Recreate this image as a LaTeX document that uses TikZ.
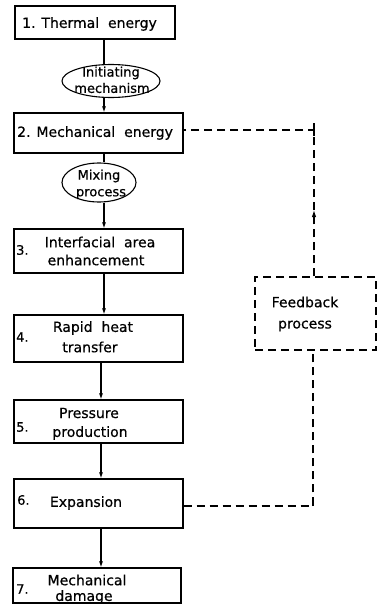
\documentclass[tikz,border=0pt]{standalone}
\usepackage{fontspec}
\setmainfont{DejaVu Sans}[FakeBold=0.6]
\usetikzlibrary{shapes.geometric,arrows.meta}
\begin{document}
\begin{tikzpicture}[x=1pt,y=-1pt,
  box/.style={draw,line width=1.1pt,inner sep=0pt},
  oval/.style={draw,ellipse,line width=1.1pt,inner sep=0pt},
  ovtxt/.style={inner sep=0pt,font=\fontsize{13}{15}\selectfont},
  lbl/.style={inner sep=0pt,font=\fontsize{14}{16}\selectfont},
  num/.style={inner sep=0pt,anchor=west,font=\fontsize{13}{15}\selectfont},
  link/.style={line width=1.1pt},
  arr/.style={line width=1.1pt,-{Latex[length=6pt,width=4pt]}},
  fbline/.style={line width=1.1pt,dash pattern=on 8pt off 5pt},
  fbarr/.style={line width=1.1pt,dash pattern=on 8pt off 5pt,-{Latex[length=7pt,width=4.5pt]}}]
\useasboundingbox (0,0) rectangle (377,613);
% boxes
\node[box,minimum width=160pt,minimum height=33pt] (b1) at (95,22.5) {};
\node[box,minimum width=169pt,minimum height=40pt] (b2) at (98.5,133) {};
\node[box,minimum width=169pt,minimum height=44pt] (b3) at (98.5,251) {};
\node[box,minimum width=169pt,minimum height=47pt] (b4) at (98.5,338.5) {};
\node[box,minimum width=169pt,minimum height=43pt] (b5) at (98.5,421.5) {};
\node[box,minimum width=169pt,minimum height=49pt] (b6) at (98.5,503.5) {};
\node[box,minimum width=168pt,minimum height=35pt] (b7) at (97,585.5) {};
% ovals
\node[oval,minimum width=98pt,minimum height=33pt] (e1) at (111,81) {};
\node[ovtxt] (e1a) at (111,73) {Initiating};
\node[ovtxt] (e1b) at (112,88) {mechanism};
\node[oval,minimum width=74pt,minimum height=39pt] (e2) at (99,182.5) {};
\node[ovtxt] (e2a) at (99,176) {Mixing};
\node[ovtxt] (e2b) at (101,194) {process};
% feedback box
\node[box,fbline,minimum width=121pt,minimum height=73pt] (fb) at (315.5,313.5) {};
% texts
\node[lbl,anchor=west] (t1) at (22,24) {1. Thermal\ \ energy};
\node[lbl,anchor=west] (t2) at (17,133) {2. Mechanical\ \ energy};
\node[num] (n3) at (16,250) {3.};
\node[lbl] (t3a) at (100,242) {Interfacial\ \ area};
\node[lbl] (t3b) at (96,260) {enhancement};
\node[num] (n4) at (16,337) {4.};
\node[lbl] (t4a) at (93,328) {Rapid\ \ heat};
\node[lbl] (t4b) at (90,347) {transfer};
\node[num] (n5) at (16,427) {5.};
\node[lbl] (t5a) at (89,413) {Pressure};
\node[lbl] (t5b) at (90,433) {production};
\node[num] (n6) at (17,500) {6.};
\node[lbl] (t6) at (86,503) {Expansion};
\node[num] (n7) at (16,589) {7.};
\node[lbl] (t7a) at (87,580) {Mechanical};
\node[lbl] (t7b) at (84,597) {damage};
\node[lbl] (tf1) at (305,302) {Feedback};
\node[lbl] (tf2) at (305,326) {process};
% spine coordinates
\coordinate (s1) at (104,0);
\coordinate (s2) at (101,0);
% main flow
\draw[link] (b1.south -| s1) -- (e1.north -| s1);
\draw[arr] (e1.south -| s1) -- (b2.north -| s1);
\draw[link] (b2.south -| s1) -- (e2.north -| s1);
\draw[arr] (e2.south -| s1) -- (b3.north -| s1);
\draw[arr] (b3.south -| s1) -- (b4.north -| s1);
\draw[arr] (b4.south -| s2) -- (b5.north -| s2);
\draw[arr] (b5.south -| s2) -- (b6.north -| s2);
\draw[arr] (b6.south -| s2) -- (b7.north -| s2);
% feedback loop
\coordinate (c1) at (314,130);
\coordinate (c2) at (313,506);
\coordinate (ca) at (314,210);
\draw[fbline] (b6.east |- c2) -- (c2) -- (fb.south -| c2);
\draw[link] (c2) -- ++(0,-5);
\draw[fbarr] (fb.north -| c1) -- (ca);
\draw[fbline] (ca) -- (c1) -- (b2.east |- c1);
\draw[link] ([yshift=-6pt]c1) -- ([yshift=7pt]c1);
\end{tikzpicture}
\end{document}
